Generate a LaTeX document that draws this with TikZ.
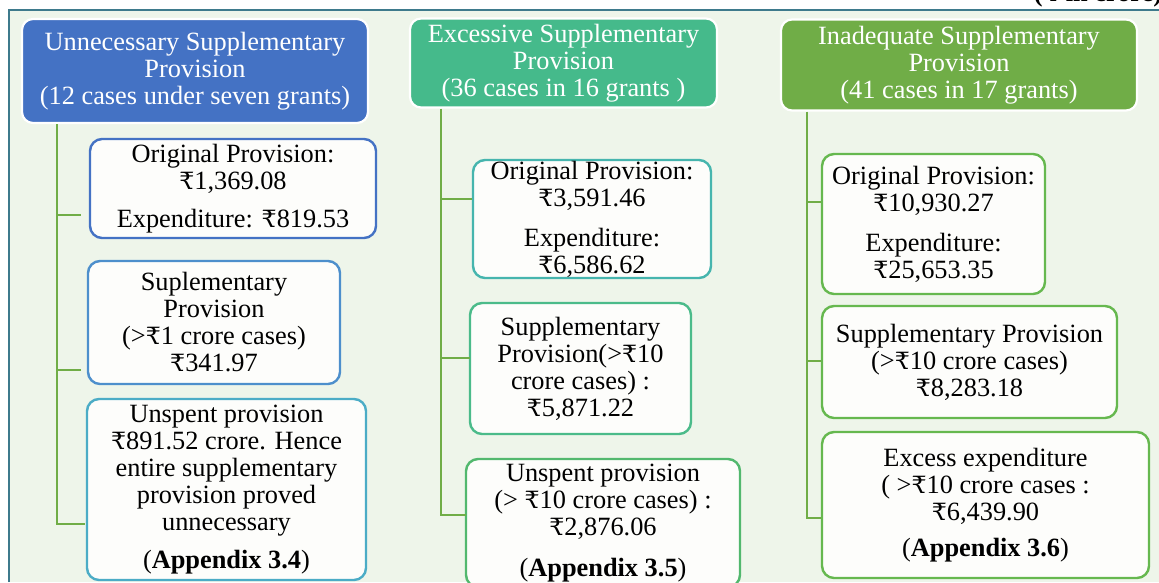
\documentclass[tikz,border=0pt]{standalone}
\usepackage{fontspec}
\setmainfont{Liberation Serif}
\newfontfamily\rsfont[Scale=0.9]{DejaVu Serif}
\usetikzlibrary{positioning}

\definecolor{frameline}{RGB}{62,122,140}
\definecolor{bgfill}{RGB}{238,245,234}
\definecolor{leaffill}{RGB}{253,253,251}
\definecolor{headblue}{RGB}{68,114,196}
\definecolor{headteal}{RGB}{69,186,139}
\definecolor{headgreen}{RGB}{112,173,71}
\definecolor{branchgreen}{RGB}{112,173,71}
\definecolor{uonec}{RGB}{68,114,196}
\definecolor{utwoc}{RGB}{77,143,204}
\definecolor{uthreec}{RGB}{75,172,198}
\definecolor{eonec}{RGB}{70,181,174}
\definecolor{etwoc}{RGB}{75,187,138}
\definecolor{ethreec}{RGB}{82,184,110}
\definecolor{icolc}{RGB}{102,184,79}

\newcommand{\Rs}{{\rsfont ₹}}

\begin{document}
\begin{tikzpicture}[x=0.016cm,y=-0.016cm,every text node part/.style={align=center},
	boxsize/.style 2 args={minimum width=#1*0.016cm, minimum height=#2*0.016cm},
	head/.style={draw=white, line width=1pt, rounded corners=5pt, text=white, inner sep=0pt,
		font=\fontsize{12}{12.3}\selectfont},
	leaf/.style={fill=leaffill, line width=1.1pt, rounded corners=5.5pt, inner sep=0pt,
		font=\fontsize{12}{12.3}\selectfont},
	branch/.style={draw=branchgreen, line width=1.3pt}]

	\useasboundingbox (0,0) rectangle (1159,582);

	% frame
	\fill[bgfill] (10,11) rectangle (1159,582);
	\draw[frameline, line width=1.2pt] (9,582) -- (9,10) -- (1159,10);
	\node (unit) [anchor=base, font=\bfseries\fontsize{12}{12}\selectfont] at (1098,2) {(\Rs{} in crore)};

	% heads
	\node (unn) [head, fill=headblue, boxsize={346}{104}] at (195,71) {Unnecessary Supplementary\\Provision\\(12 cases under seven grants)};
	\node (exc) [head, fill=headteal, boxsize={307}{89}] at (563.5,63) {Excessive Supplementary\\Provision\\(36 cases in 16 grants )};
	\node (ina) [head, fill=headgreen, boxsize={356}{91}] at (959,65) {Inadequate Supplementary\\Provision\\(41 cases in 17 grants)};

	% unnecessary
	\node (u1) [leaf, draw=uonec, boxsize={286}{99}] at (233,188.5) {Original Provision:\\\Rs1,369.08\\[5pt]Expenditure: \Rs819.53};
	\node (u2) [leaf, draw=utwoc, boxsize={252}{123}] at (214,322.5) {Suplementary\\Provision\\(>\Rs1 crore cases)\\\Rs341.97};
	\node (u3) [leaf, draw=uthreec, boxsize={279}{181}] at (226.5,489.5) {Unspent provision\\\Rs891.52 crore. Hence\\entire supplementary\\provision proved\\unnecessary\\[5pt](\textbf{Appendix 3.4})};

	% excessive
	\node (e1) [leaf, draw=eonec, boxsize={238}{118}] at (592,219) {Original Provision:\\\Rs3,591.46\\[6pt]Expenditure:\\\Rs6,586.62};
	\node (e2) [leaf, draw=etwoc, boxsize={221}{131}] at (580.5,368.5) {Supplementary\\Provision(>\Rs10\\crore cases) :\\\Rs5,871.22};
	\node (e3) [leaf, draw=ethreec, boxsize={274}{128}] at (603,523) {Unspent provision\\(> \Rs10 crore cases) :\\\Rs2,876.06\\[6pt](\textbf{Appendix 3.5})};

	% inadequate
	\node (i1) [leaf, draw=icolc, boxsize={223}{140}] at (933.5,224) {Original Provision:\\\Rs10,930.27\\[6pt]Expenditure:\\\Rs25,653.35};
	\node (i2) [leaf, draw=icolc, boxsize={295}{112}] at (969.5,362) {Supplementary Provision\\(>\Rs10 crore cases)\\\Rs8,283.18};
	\node (i3) [leaf, draw=icolc, boxsize={327}{146}] at (985.5,505) {Excess expenditure\\( >\Rs10 crore cases :\\\Rs6,439.90\\[4pt](\textbf{Appendix 3.6})};

	% connections
	\coordinate (utrunk) at (57,0);
	\coordinate (uend1) at (81,215);
	\coordinate (uend2) at (81,370);
	\coordinate (uend3) at (85,524);
	\draw[branch] (utrunk |- unn.south) |- (uend3);
	\draw[branch] (utrunk |- uend1) -- (uend1);
	\draw[branch] (utrunk |- uend2) -- (uend2);

	\coordinate (etrunk) at (441,0);
	\coordinate (eend1) at (472,199);
	\coordinate (eend2) at (470,358);
	\coordinate (eend3) at (466,515);
	\draw[branch] (etrunk |- exc.south) |- (eend3);
	\draw[branch] (etrunk |- eend1) -- (eend1);
	\draw[branch] (etrunk |- eend2) -- (eend2);

	\coordinate (itrunk) at (807,0);
	\draw[branch] (itrunk |- ina.south) |- (i3.west |- 0,518);
	\draw[branch] (itrunk |- 0,202) -- (i1.west |- 0,202);
	\draw[branch] (itrunk |- 0,361) -- (i2.west |- 0,361);
\end{tikzpicture}
\end{document}
